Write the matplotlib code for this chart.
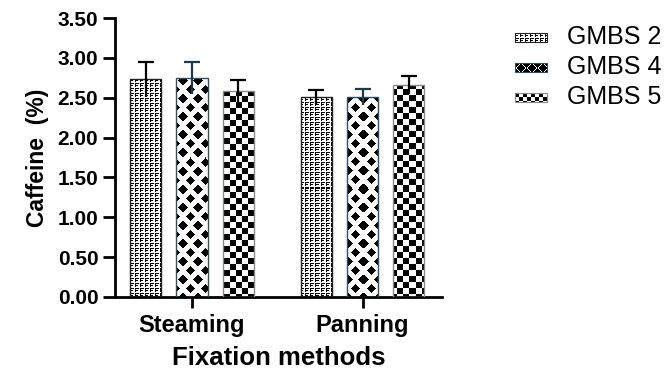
import numpy as np
import matplotlib
matplotlib.use("Agg")
import matplotlib.pyplot as plt
from matplotlib.patches import Rectangle

plt.rcParams['font.family'] = ['Liberation Sans', 'DejaVu Sans']

# Data
methods = ["Steaming", "Panning"]
series = ["GMBS 2", "GMBS 4", "GMBS 5"]
gmbs2 = [2.73, 2.51]
gmbs4 = [2.75, 2.51]
gmbs5 = [2.58, 2.66]
gmbs2_err = [0.22, 0.09]
gmbs4_err = [0.20, 0.10]
gmbs5_err = [0.14, 0.11]
yticks = [0.0, 0.5, 1.0, 1.5, 2.0, 2.5, 3.0, 3.5]


# Fill textures, computed on the pixel grid (1 = white, 0 = black)
def brick(xx, yy):
    tile = np.array([[0, 0, 0, 0, 1],
                     [0, 1, 1, 1, 1],
                     [0, 0, 0, 1, 1],
                     [0, 1, 1, 1, 1],
                     [1, 1, 1, 1, 1]], dtype=float)
    return tile[yy % 5, xx % 5]


def diamonds(xx, yy, px=15.0, py=18.0, a=4.5, b=4.5):
    dx1 = ((xx + px / 2) % px) - px / 2
    dy1 = ((yy + py / 2) % py) - py / 2
    dx2 = (xx % px) - px / 2
    dy2 = (yy % py) - py / 2
    d = np.minimum(np.abs(dx1) / a + np.abs(dy1) / b,
                   np.abs(dx2) / a + np.abs(dy2) / b)
    return np.where(d <= 1.0, 0.0, 1.0)


def small_diamonds(xx, yy):
    return diamonds(xx, yy, px=11.0, py=9.0, a=5.0, b=4.2)


def checker(xx, yy, s=6):
    return ((xx // s + yy // s) % 2).astype(float)


def small_checker(xx, yy):
    return checker(xx, yy, s=4)


styles = [
    dict(vals=gmbs2, err=gmbs2_err, tex=brick, key=brick,
         edge="#222222", ecol="black"),
    dict(vals=gmbs4, err=gmbs4_err, tex=diamonds, key=small_diamonds,
         edge="#2f4f5f", ecol="#1d3a48"),
    dict(vals=gmbs5, err=gmbs5_err, tex=checker, key=small_checker,
         edge="#8a8a8a", ecol="black"),
]

W, H, DPI = 6.68, 3.70, 100
fig = plt.figure(figsize=(W, H), dpi=DPI)
ax_rect = [115 / 668, 1 - 297 / 370, (442 - 115) / 668, (297 - 18) / 370]
ax = fig.add_axes(ax_rect)

xlim = (-0.4516, 1.466)
ylim = (0, 3.5)
ax.set_xlim(*xlim)
ax.set_ylim(*ylim)

pw = int(round(ax_rect[2] * W * DPI))
ph = int(round(ax_rect[3] * H * DPI))
yy, xx = np.mgrid[0:ph, 0:pw]

x = np.arange(len(methods))
width = 0.182
offset = 0.27

for i, st in enumerate(styles):
    pos = x + (i - 1) * offset
    bars = ax.bar(pos, st["vals"], width, facecolor="none",
                  edgecolor=st["edge"], linewidth=1.0, zorder=3)
    tex = st["tex"](xx, yy)
    for b in bars:
        im = ax.imshow(tex, cmap="gray", vmin=0, vmax=1, origin="upper",
                       extent=(xlim[0], xlim[1], ylim[0], ylim[1]),
                       interpolation="nearest", aspect="auto", zorder=2)
        im.set_clip_path(b)
    _, caps, _ = ax.errorbar(pos, st["vals"], yerr=st["err"], fmt="none",
                             ecolor=st["ecol"], elinewidth=1.6,
                             capsize=5.5, capthick=1.6, zorder=4)
    caps[0].set_visible(False)

ax.set_xlim(*xlim)
ax.set_ylim(*ylim)

for s in ["top", "right"]:
    ax.spines[s].set_visible(False)
for s in ["left", "bottom"]:
    ax.spines[s].set_linewidth(2.0)

ax.set_yticks(yticks)
ax.set_yticklabels([f"{v:.2f}" for v in yticks], fontsize=15, fontweight="bold")
ax.set_xticks(x)
ax.set_xticklabels(methods, fontsize=17, fontweight="bold")
ax.tick_params(axis="y", length=9, width=2.0, pad=3)
ax.tick_params(axis="x", length=8, width=2.0, pad=4)

ax.set_xlabel("Fixation methods", fontsize=18.5, fontweight="bold", labelpad=7)
ax.set_ylabel("Caffeine  (%)", fontsize=16.5, fontweight="bold", labelpad=6)

# Legend drawn on a full-figure overlay in pixel units
ov = fig.add_axes([0, 0, 1, 1], zorder=5)
ov.set_xlim(0, 668)
ov.set_ylim(370, 0)
ov.axis("off")
ly = [37.5, 67.5, 97.5]
sw, sh = 32, 9
sx = 515
for st, label, cy in zip(styles, series, ly):
    gy, gx = np.mgrid[0:sh, 0:sw]
    ov.imshow(st["key"](gx, gy), cmap="gray", vmin=0, vmax=1, origin="upper",
              extent=(sx, sx + sw, cy + sh / 2, cy - sh / 2),
              interpolation="nearest", aspect="auto")
    ov.add_patch(Rectangle((sx, cy - sh / 2), sw, sh, facecolor="none",
                           edgecolor=st["edge"], linewidth=0.8))
    ov.text(567, cy, label, fontsize=18, va="center", ha="left")
ov.set_xlim(0, 668)
ov.set_ylim(370, 0)

fig.savefig("out.png", dpi=DPI)
